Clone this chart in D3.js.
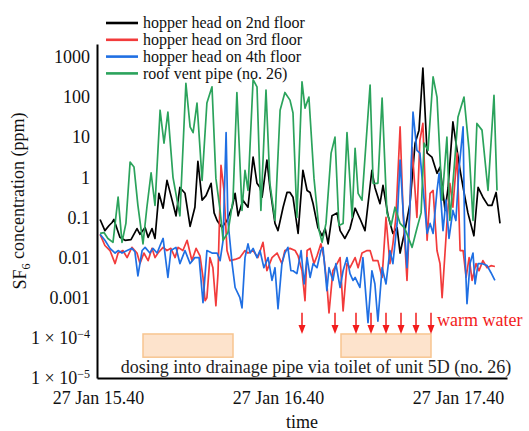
<!DOCTYPE html>
<html>
<head>
<meta charset="utf-8">
<script src="https://cdn.jsdelivr.net/npm/d3@7"></script>
<style>
  html, body { margin: 0; padding: 0; background: #fff; }
  svg { display: block; font-family: "Liberation Serif", "Times New Roman", serif; }
</style>
</head>
<body>
<div id="chart"></div>
<script>
// time in minutes after 27 Jan 15:40, SF6 concentration in ppm
const blackT = [0.7,2.3,3.7,4.7,5.3,7.3,9,11,13,14,15.7,16.7,18,19,20.3,21.7,23,24.7,26,27.3,29,30.7,32.3,33.3,34.7,36,37.7,38.7,39.7,41.3,43,44.7,45.7,46.7,48.3,50,51.7,53,54,54.7,56.3,57.3,59,60,61.7,63,64,65,66.7,68.3,69.7,70.7,71.7,73.3,74.7,75.7,76.7,78,79.7,80.7,82.3,84,85.7,87.3,89,91.3,92.3,94,95,96.7,98.3,99.7,100.7,102.3,104,105.7,107,108.3,109.7,111.3,113,114,115.7,116.7,118.3,119.7,120.7,121.7,123.3,125.3,126.7,128.3,130,131.3,132.7,134];
const blackV = [0.089,0.047,0.063,0.075,0.089,0.032,0.027,0.028,0.053,0.038,0.056,0.032,0.053,0.03,0.4,0.17,0.84,0.27,0.11,0.56,0.4,0.06,0.18,2.5,0.27,0.35,0.71,0.13,0.084,0.056,0.084,0.18,0.4,0.11,0.27,0.18,3.2,0.71,0.56,0.32,2.7,0.56,0.071,0.047,0.18,0.42,0.42,0.32,0.04,1.5,0.47,0.42,0.22,0.056,0.035,0.053,0.022,0.11,0.13,0.047,0.03,0.053,0.17,0.094,0.047,1.5,0.56,0.22,0.63,0.11,0.04,0.056,0.013,0.047,0.22,7.1,15,530,4.0,3.2,1.26,1.8,0.15,0.56,24,4.7,1.5,0.56,0.13,0.035,0.56,0.32,0.2,0.2,0.42,0.071];

const redT = [0.7,2.3,4,5.7,6.7,8.3,9.7,11.3,13,14,15.3,16.7,18,19,20,21.7,23,24.3,25.7,26.7,28.3,29.7,31.3,32.7,34,35,35.7,36.3,37.3,38.3,39.3,40,41,42,43,44,45.7,47.3,49,50,51.7,53.3,55,56.3,58,59.7,61.3,62.3,64,65.7,66.7,68,69,69.7,70.7,72,73,74.3,75.3,76.3,77,78.3,79.7,80.7,81.7,83,84,85.7,86.7,88,89.7,90.7,91.7,93.3,94.7,96,97.3,98.3,99.3,100.7,101.7,103,103.7,104.7,106.3,107.3,108.3,109.7,110.7,111.7,113,114,114.7,116.3,117.3,118.3,119.7,120.7,121.7,122.7,123.7,124.7,126,127,128.3,129.7,131,132.3];
const redV = [0.038,0.02,0.015,0.0071,0.013,0.015,0.01,0.018,0.013,0.0071,0.013,0.0084,0.017,0.01,0.013,0.018,0.015,0.017,0.01,0.018,0.015,0.027,0.0084,0.017,0.011,0.0032,0.00084,0.001,0.01,0.0056,0.00063,0.004,2.0,0.47,0.015,0.0084,0.009,0.01,0.015,0.013,0.015,0.01,0.024,0.0047,0.01,0.013,0.0071,0.015,0.017,0.015,0.011,0.0047,0.00084,0.015,0.017,0.0071,0.011,0.022,0.01,0.0022,0.00042,0.0047,0.0071,0.01,0.00047,0.0071,0.0056,0.01,0.0056,0.013,0.015,0.015,0.0084,0.0084,0.0032,0.1,0.0071,0.022,0.1,18,0.13,0.0027,0.047,5.6,0.1,8.4,22,0.027,0.4,0.47,0.015,0.0071,0.001,0.071,0.71,0.18,4.0,0.015,0.015,0.0032,0.01,0.0027,0.0071,0.0047,0.0084,0.0056,0.0063,0.006];

const blueT = [0.7,2.3,4,5.7,6.7,8,9.7,11.3,12.3,13.3,14.7,15.7,17.3,18.3,19.7,20.7,21.7,23.3,24.3,26,27.3,29,30.7,32.3,33.7,35,36.3,38,39.7,40.7,41.7,42.7,43.3,44.7,45.7,47.3,48,49,50,50.7,51.7,53,54,55.3,56.7,58,59,60,61.3,62.3,63.3,64.3,65,66.3,67.7,68.7,69.7,70.7,71.7,73,74.3,75,76.3,77,78.3,79.3,80.7,81.7,83,84,85,85.7,87.3,88.3,90,91.3,92.3,93.3,94.7,96,97.3,98.3,99.7,100.7,101.7,103,104,105,106.3,107.3,108.7,109.7,110.7,111.7,113,113.7,115,116,117,118.3,119.3,120.3,121.7,122.3,123,124,125,125.7,126.7,128,129.7,131,132.3];
const blueV = [0.038,0.027,0.017,0.013,0.015,0.013,0.015,0.017,0.014,0.0035,0.015,0.018,0.013,0.017,0.013,0.02,0.03,0.0032,0.015,0.018,0.0071,0.015,0.0071,0.01,0.01,0.00075,0.015,0.013,0.013,0.0084,0.027,13,0.084,0.0071,0.0018,0.001,0.00056,0.01,0.022,0.013,0.017,0.01,0.015,0.0056,0.01,0.0027,0.0056,0.00053,0.0071,0.013,0.018,0.0047,0.0047,0.004,0.015,0.0022,0.01,0.0032,0.0071,0.0056,0.015,0.018,0.0015,0.0056,0.0027,0.0071,0.0018,0.0047,0.01,0.004,0.0027,0.0032,0.0018,0.01,0.00024,0.0047,0.0022,0.00026,0.0056,0.0022,0.015,0.0071,0.071,2.7,0.15,0.0056,0.22,42,4.7,4.0,0.27,0.04,0.071,0.04,0.47,1.26,0.047,0.27,0.03,0.15,0.084,1.5,18,0.015,0.00071,0.0071,0.013,0.0022,0.0071,0.0071,0.0063,0.0042,0.0027];

const greenT = [0.7,2,3.3,5,6.7,8,9.3,10.7,12,13.3,15,16.3,17.7,19,20.7,22,23.3,25,27.3,29.3,30.7,31.7,33,34.7,36.3,38,39.3,40.7,41.7,43.3,45,46.3,48,49,50,51.7,53,54.3,56,57.3,59,60.7,62.3,64,65,66.3,68,69,70.3,72,73.7,74.7,76,77.7,79,80.3,81.7,83,84.7,85.7,86.7,88,90.7,91.7,93.3,94.7,96.3,97.7,99,100.7,102.3,104.7,106.3,107.7,108.7,110,111.7,113,114.7,116.3,117.3,119,120,122,123.7,125,126.3,128,130,132,133];
const greenV = [0.04,0.042,0.03,0.024,0.32,0.024,0.071,2.4,1.8,0.2,0.022,0.18,1.3,0.2,47,7.1,42,1,0.11,220,18,13,71,0.84,71,180,0.94,0.15,0.027,0.042,0.27,130,0.15,1.5,0.47,270,180,0.15,150,0.71,0.084,47,130,84,40,0.1,240,53,100,0.94,0.047,0.024,0.071,4.0,10,0.063,0.071,13,0.1,5.3,0.4,0.27,200,0.71,0.71,94,0.13,0.063,0.18,0.071,0.053,0.018,0.053,0.13,7.1,4.7,320,100,0.27,10,0.084,3.2,32,100,4.7,0.084,22,15,0.47,110,0.47];

const seriesNames = ["hopper head on 2nd floor", "hopper head on 3rd floor", "hopper head on 4th floor", "roof vent pipe (no. 26)"];
const seriesColors = ["#000000", "#f23b3b", "#1f6fe3", "#2ba35c"];

const yTickValues = [1e3, 1e2, 10, 1, 0.1, 0.01, 0.001, 1e-4, 1e-5];
const yTickLabels = ["1000", "100", "10", "1", "0.1", "0.01", "0.001", "1 × 10|−4", "1 × 10|−5"];
const xTickMinutes = [0, 60, 120];

// dosing periods (minutes) and warm water flushes (minutes)
const dosingStart = [15, 81];
const dosingEnd = [45, 111];
const warmWaterT = [68, 79, 86, 91, 96, 101, 106, 111];

const width = 529, height = 431;
const t0 = new Date(2016, 0, 27, 15, 40, 0);
const toDate = m => new Date(t0.getTime() + m * 60000);

const svg = d3.select("#chart")
    .append("svg")
    .attr("width", width)
    .attr("height", height);

const x = d3.scaleTime()
    .domain([toDate(-1 / 3), toDate(136 + 1 / 3)])
    .range([97, 507]);

const y = d3.scaleLog()
    .domain([1e-5, 2100])
    .range([378, 44]);

// dosing boxes
svg.selectAll(".dose")
    .data(d3.zip(dosingStart, dosingEnd))
    .enter()
    .append("rect")
    .attr("class", "dose")
    .attr("x", d => x(toDate(d[0])))
    .attr("width", d => x(toDate(d[1])) - x(toDate(d[0])))
    .attr("y", y(1.25e-4))
    .attr("height", y(3.3e-5) - y(1.25e-4))
    .attr("fill", "#fde3cc")
    .attr("stroke", "#f7c590")
    .attr("stroke-width", 1.5);

// lines
const line = d3.line()
    .x(d => x(toDate(d[0])))
    .y(d => y(d[1]));

const series = [
    { name: seriesNames[0], color: seriesColors[0], pts: d3.zip(blackT, blackV) },
    { name: seriesNames[1], color: seriesColors[1], pts: d3.zip(redT, redV) },
    { name: seriesNames[2], color: seriesColors[2], pts: d3.zip(blueT, blueV) },
    { name: seriesNames[3], color: seriesColors[3], pts: d3.zip(greenT, greenV) }
];

svg.selectAll(".series")
    .data(series)
    .enter()
    .append("path")
    .attr("class", "series")
    .attr("d", d => line(d.pts))
    .attr("fill", "none")
    .attr("stroke", d => d.color)
    .attr("stroke-width", 1.7)
    .attr("stroke-linejoin", "round");

// warm water arrows
const arrows = svg.selectAll(".arrow")
    .data(warmWaterT)
    .enter()
    .append("g")
    .attr("class", "arrow")
    .attr("transform", d => `translate(${x(toDate(d))},0)`);

arrows.append("line")
    .attr("y1", y(4.2e-4))
    .attr("y2", y(1.25e-4) - 6)
    .attr("stroke", "#f21c1c")
    .attr("stroke-width", 1.5);

arrows.append("path")
    .attr("d", `M-3.5,${y(1.25e-4) - 9}L3.5,${y(1.25e-4) - 9}L0,${y(1.25e-4)}Z`)
    .attr("fill", "#f21c1c");

svg.append("text")
    .attr("x", x(toDate(warmWaterT[warmWaterT.length - 1])) + 6)
    .attr("y", y(4.2e-4) + 13)
    .attr("font-size", "18px")
    .attr("fill", "#f21c1c")
    .text("warm water");

svg.append("text")
    .attr("x", 316)
    .attr("y", 373)
    .attr("text-anchor", "middle")
    .attr("font-size", "18px")
    .attr("fill", "#222")
    .text("dosing into drainage pipe via toilet of unit 5D (no. 26)");

// axes
const yAxis = svg.append("g")
    .attr("transform", "translate(97,0)")
    .call(d3.axisLeft(y).tickValues(yTickValues).tickSize(0).tickPadding(7));

yAxis.selectAll(".tick text").each(function (d, i) {
    const parts = yTickLabels[i].split("|");
    const t = d3.select(this).text(parts[0]);
    if (parts[1]) {
        t.append("tspan").attr("dy", "-0.5em").attr("font-size", "12px").text(parts[1]);
    }
});

const xAxis = svg.append("g")
    .attr("transform", "translate(0,378)")
    .call(d3.axisBottom(x)
        .tickValues(xTickMinutes.map(toDate))
        .tickFormat(d3.timeFormat("%d %b %H.%M"))
        .tickSize(0)
        .tickPadding(13));

svg.selectAll(".domain")
    .attr("stroke", "#000")
    .attr("stroke-width", 2);

svg.selectAll(".tick text")
    .attr("font-family", "Liberation Serif, serif")
    .attr("font-size", "18px")
    .attr("fill", "#111");

svg.append("text")
    .attr("x", 302)
    .attr("y", 428)
    .attr("text-anchor", "middle")
    .attr("font-size", "18px")
    .attr("fill", "#111")
    .text("time");

const yLabel = svg.append("text")
    .attr("transform", "translate(26,201) rotate(-90)")
    .attr("text-anchor", "middle")
    .attr("font-size", "18px")
    .attr("fill", "#111");
yLabel.append("tspan").text("SF");
yLabel.append("tspan").attr("dy", "0.3em").attr("font-size", "12px").text("6");
yLabel.append("tspan").attr("dy", "-0.3em").text(" concentration (ppm)");

// legend
const legend = svg.selectAll(".legend")
    .data(series)
    .enter()
    .append("g")
    .attr("class", "legend")
    .attr("transform", (d, i) => `translate(106,${23 + i * 16.8})`);

legend.append("line")
    .attr("x1", 0)
    .attr("x2", 32)
    .attr("stroke", d => d.color)
    .attr("stroke-width", 2.6);

legend.append("text")
    .attr("x", 37)
    .attr("dy", "0.32em")
    .attr("font-size", "16px")
    .attr("fill", "#111")
    .text(d => d.name);
</script>
</body>
</html>
